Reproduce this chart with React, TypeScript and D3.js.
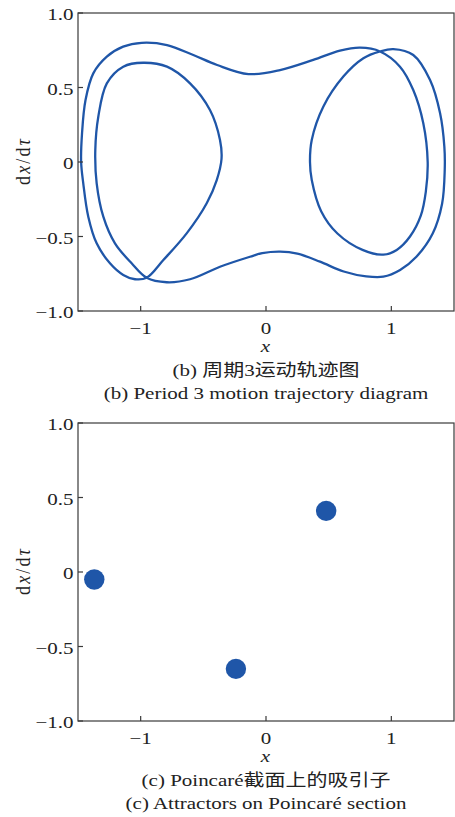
import React from "react";
import * as d3 from "d3";

// Period-3 orbit in the phase plane (x, dx/dτ), traced clockwise
const trajectory: [number, number][] = [
  [-1.475, 0], [-1.468, 0.19], [-1.44, 0.416], [-1.378, 0.595], [-1.27, 0.707],
  [-1.14, 0.774], [-0.992, 0.8], [-0.79, 0.785], [-0.58, 0.718], [-0.39, 0.651],
  [-0.14, 0.59], [0.112, 0.617], [0.377, 0.685], [0.59, 0.747], [0.75, 0.767],
  [0.91, 0.742], [1.069, 0.64], [1.175, 0.483], [1.255, 0.26], [1.29, 0],
  [1.275, -0.2], [1.235, -0.36], [1.149, -0.5], [1.043, -0.59], [0.936, -0.622],
  [0.77, -0.59], [0.57, -0.48], [0.44, -0.33], [0.365, -0.121], [0.351, 0],
  [0.365, 0.148], [0.457, 0.371], [0.617, 0.573], [0.777, 0.696], [0.91, 0.742],
  [1.016, 0.758], [1.175, 0.718], [1.309, 0.55], [1.389, 0.327], [1.423, 0.103],
  [1.426, -0.054], [1.405, -0.28], [1.33, -0.48], [1.2, -0.636], [1.07, -0.725],
  [0.936, -0.77], [0.8, -0.768], [0.62, -0.735], [0.431, -0.669], [0.25, -0.615],
  [0.112, -0.602], [-0.03, -0.612], [-0.128, -0.636], [-0.367, -0.703], [-0.606, -0.787],
  [-0.792, -0.807], [-0.952, -0.777], [-1.072, -0.68], [-1.205, -0.546], [-1.298, -0.367],
  [-1.351, -0.143], [-1.362, 0.08], [-1.338, 0.304], [-1.27, 0.528], [-1.139, 0.64],
  [-0.98, 0.666], [-0.79, 0.64], [-0.606, 0.528], [-0.447, 0.349], [-0.367, 0.148],
  [-0.355, 0.02], [-0.393, -0.121], [-0.473, -0.277], [-0.633, -0.479], [-0.819, -0.658],
  [-0.952, -0.777], [-1.045, -0.787], [-1.139, -0.758], [-1.245, -0.68], [-1.351, -0.546],
  [-1.418, -0.367], [-1.458, -0.143],
];

// Poincaré section points
const poincareX = [-1.37, 0.48, -0.24];
const poincareY = [-0.05, 0.41, -0.65];

const xTicks = [-1, 0, 1];
const xTickLabels = ["\u22121", "0", "1"];
const yTicks = [1, 0.5, 0, -0.5, -1];
const yTickLabels = ["1.0", "0.5", "0", "\u22120.5", "\u22121.0"];

const captionsB = ["(b) 周期3运动轨迹图", "(b) Period 3 motion trajectory diagram"];
const captionsC = ["(c) Poincaré截面上的吸引子", "(c) Attractors on Poincaré section"];

const BLUE = "#1f56a8";
const AXIS = "#3a3a3a";
const FONT = "'Liberation Serif', 'Noto Sans CJK SC', serif";
const SX = 1.2;

const left = 78;
const right = 454;
const top = 13;
const bottom = 311;

function Panel({
  offset,
  captions,
  children,
}: {
  offset: number;
  captions: string[];
  children: (x: d3.ScaleLinear<number, number>, y: d3.ScaleLinear<number, number>) => React.ReactNode;
}) {
  const x = d3.scaleLinear().domain([-1.5, 1.5]).range([left, right]);
  const y = d3.scaleLinear().domain([-1, 1]).range([bottom + offset, top + offset]);
  const b = bottom + offset;
  const t = top + offset;
  const midY = (b + t) / 2;
  return (
    <g>
      {children(x, y)}
      <rect x={left} y={t} width={right - left} height={b - t} fill="none" stroke={AXIS} strokeWidth={1.2} />
      {xTicks.map((v, i) => (
        <g key={"xt" + i}>
          <line x1={x(v)} x2={x(v)} y1={b} y2={b - 5} stroke={AXIS} strokeWidth={1.2} />
          <text
            transform={`translate(${x(v)},${b + 23}) scale(${SX},1)`}
            textAnchor="middle"
            fontFamily={FONT}
            fontSize={17.5}
            fill="#222"
          >
            {xTickLabels[i]}
          </text>
        </g>
      ))}
      {yTicks.map((v, i) => (
        <g key={"yt" + i}>
          <line x1={left} x2={left + 5} y1={y(v)} y2={y(v)} stroke={AXIS} strokeWidth={1.2} />
          <text
            transform={`translate(${left - 4.5},${y(v) + 7}) scale(${SX},1)`}
            textAnchor="end"
            fontFamily={FONT}
            fontSize={17.5}
            fill="#222"
          >
            {yTickLabels[i]}
          </text>
        </g>
      ))}
      <text
        transform={`translate(${(left + right) / 2 - 0.5},${b + 41}) scale(${SX},1)`}
        textAnchor="middle"
        fontFamily={FONT}
        fontStyle="italic"
        fontSize={17.5}
        fill="#222"
      >
        x
      </text>
      <text
        transform={`translate(30,${midY}) rotate(-90) scale(1,${SX})`}
        textAnchor="middle"
        fontFamily={FONT}
        fontSize={18}
        textLength={46}
        lengthAdjust="spacing"
        fill="#222"
      >
        d<tspan fontStyle="italic">x</tspan>/d<tspan fontStyle="italic">τ</tspan>
      </text>
      {captions.map((c, i) => (
        <text
          key={"cap" + i}
          transform={`translate(${(left + right) / 2},${b + 65 + i * 22.5}) scale(${SX},1)`}
          textAnchor="middle"
          fontFamily={FONT}
          fontSize={17.5}
          fill="#222"
        >
          {c}
        </text>
      ))}
    </g>
  );
}

export default function App() {
  const line = d3.line<[number, number]>().curve(d3.curveCatmullRomClosed.alpha(0.5));
  return (
    <svg
      width={455}
      height={817}
      style={{ position: "absolute", left: 0, top: 0, background: "#fff" }}
    >
      <rect width={455} height={817} fill="#fff" />
      <Panel offset={0} captions={captionsB}>
        {(x, y) => (
          <path
            d={line.x((d) => x(d[0])).y((d) => y(d[1]))(trajectory) || ""}
            fill="none"
            stroke={BLUE}
            strokeWidth={2.3}
          />
        )}
      </Panel>
      <Panel offset={410} captions={captionsC}>
        {(x, y) => (
          <g>
            {poincareX.map((px, i) => (
              <circle key={i} cx={x(px)} cy={y(poincareY[i])} r={10.2} fill={BLUE} />
            ))}
          </g>
        )}
      </Panel>
    </svg>
  );
}
